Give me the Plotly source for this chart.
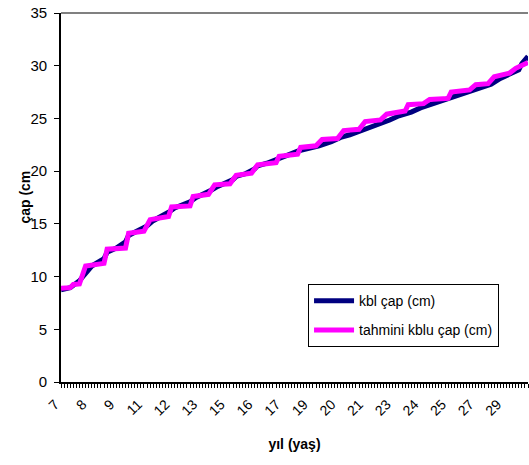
import plotly.graph_objects as go

# Observation number (category position along the x axis) and diameter values
kbl_obs = [0, 3, 6, 8, 10, 14, 15, 18, 21, 22, 25, 28, 30, 32, 35, 37, 39, 42, 44, 46,
           49, 51, 53, 56, 57, 60, 63, 64, 67, 70, 72, 74, 77, 81, 84, 88, 91, 94, 97,
           101, 104, 107, 110, 114, 117, 120, 123, 127, 130, 133, 136, 140, 143, 146,
           149, 150, 152]
kbl_cap = [8.75, 8.95, 9.6, 10.3, 11.0, 11.7, 12.3, 12.7, 13.3, 13.9, 14.3, 14.8, 15.3,
           15.6, 16.1, 16.5, 16.7, 17.1, 17.5, 17.75, 18.2, 18.55, 18.8, 19.2, 19.5, 19.75,
           20.2, 20.5, 20.75, 21.05, 21.35, 21.55, 21.9, 22.15, 22.4, 22.8, 23.2, 23.45,
           23.75, 24.15, 24.45, 24.85, 25.25, 25.6, 26.0, 26.3, 26.55, 26.9, 27.3, 27.55,
           27.9, 28.25, 28.8, 29.2, 29.6, 30.2, 30.9]

tahmini_obs = [0, 3, 4, 6, 8, 14, 15, 21, 22, 27, 29, 35, 36, 42, 43, 48, 50, 55, 57, 62,
               64, 70, 71, 77, 78, 83, 85, 90, 92, 97, 99, 104, 106, 112, 113, 118, 120,
               126, 127, 133, 135, 139, 141, 146, 148, 152]
tahmini_cap = [8.9, 8.95, 9.25, 9.3, 11.0, 11.25, 12.6, 12.7, 14.1, 14.3, 15.4, 15.7, 16.6,
               16.7, 17.6, 17.8, 18.7, 18.8, 19.6, 19.8, 20.6, 20.8, 21.4, 21.6, 22.25,
               22.4, 23.0, 23.1, 23.85, 23.97, 24.7, 24.86, 25.4, 25.7, 26.3, 26.4, 26.8,
               26.9, 27.5, 27.7, 28.2, 28.3, 28.95, 29.3, 29.75, 30.3]

# Age labels shown on every 9th category
yas_pos = [0, 9, 18, 27, 36, 45, 54, 63, 72, 81, 90, 99, 108, 117, 126, 135, 144]
yas_etiket = ["7", "8", "9", "11", "12", "13", "15", "16", "17", "19", "20", "21",
              "23", "24", "25", "27", "29"]

FONT = "Liberation Sans, Arial, sans-serif"

fig = go.Figure()
fig.add_trace(go.Scatter(
    x=kbl_obs, y=kbl_cap, mode="lines", name="kbl çap (cm)",
    line=dict(color="#000080", width=5), legendgroup="a",
))
fig.add_trace(go.Scatter(
    x=tahmini_obs, y=tahmini_cap, mode="lines", name="tahmini kblu çap (cm)",
    line=dict(color="#FF00FF", width=5), legendgroup="b",
))

fig.update_layout(
    width=529, height=465,
    margin=dict(l=61, r=1, t=13, b=83),
    paper_bgcolor="white", plot_bgcolor="white",
    font=dict(family=FONT, size=14, color="black"),
    showlegend=True,
    legend=dict(
        x=0.529, y=0.265, xanchor="left", yanchor="top",
        bordercolor="black", borderwidth=1, bgcolor="white",
        font=dict(size=14, family=FONT), tracegroupgap=8,
        itemwidth=40, traceorder="grouped",
    ),
    xaxis=dict(
        range=[0, 152], tickmode="array", tickvals=yas_pos, ticktext=yas_etiket,
        tickangle=-45, ticks="outside", ticklen=4, tickwidth=1, tickcolor="black",
        ticklabelshift=-6, ticklabelstandoff=3,
        showline=True, linecolor="black", linewidth=1.5, showgrid=False, zeroline=False,
        minor=dict(ticks="outside", tickmode="linear", tick0=0, dtick=1, ticklen=4,
                   tickwidth=1, tickcolor="black", showgrid=False),
        title=dict(text="<b>yıl (yaş)</b>", font=dict(size=14, family=FONT), standoff=22),
        tickfont=dict(size=14, family=FONT),
    ),
    yaxis=dict(
        range=[0, 35], dtick=5, ticks="outside", ticklen=5, tickcolor="black",
        ticksuffix="\u00a0",
        showline=True, linecolor="black", linewidth=1.5, showgrid=False, zeroline=False,
        tickfont=dict(size=15, family=FONT),
    ),
    annotations=[dict(
        text="<b>çap (cm</b>", xref="paper", yref="paper", x=-0.079, y=0.5,
        xanchor="center", yanchor="middle", textangle=-90, showarrow=False,
        font=dict(size=14, family=FONT),
    )],
)

# Plot-area border along the top edge
fig.add_shape(type="line", xref="paper", yref="paper", x0=0, x1=1, y0=1, y1=1,
              line=dict(color="#808080", width=2))

fig.write_html("out.html")
